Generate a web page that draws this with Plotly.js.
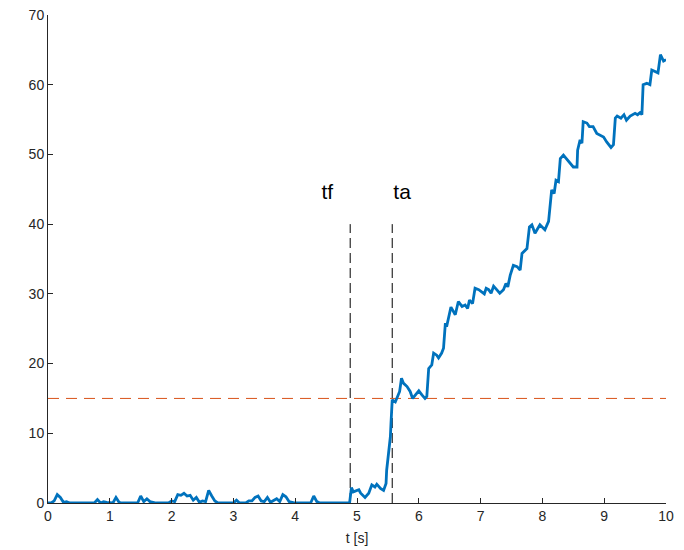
<!DOCTYPE html>
<html>
<head>
<meta charset="utf-8">
<script src="https://cdn.plot.ly/plotly-2.35.2.min.js"></script>
<style>html,body{margin:0;padding:0;background:#fff}#chart{width:684px;height:550px}</style>
</head>
<body>
<div id="chart"></div>
<script>
// signal samples
var tValues = [0,0.05,0.1,0.15,0.2,0.25,0.3,0.35,0.75,0.8,0.85,0.9,0.95,1.0,1.05,1.1,1.15,1.2,1.45,1.5,1.55,1.6,1.65,1.7,1.75,1.95,
  2.0,2.05,2.1,2.15,2.2,2.25,2.3,2.35,2.4,2.45,2.5,2.55,2.6,2.65,2.7,2.75,3.0,3.05,3.1,3.2,3.25,3.3,3.35,3.4,3.45,3.5,3.55,3.6,3.65,3.7,3.75,3.8,3.85,3.9,3.95,4.0,4.25,4.3,4.35,4.4,4.88,
  4.91,4.94,5.03,5.06,5.13,5.19,5.24,5.29,5.32,5.38,5.43,5.47,5.48,5.51,5.54,5.55,5.57,5.62,5.67,5.69,5.72,5.75,5.81,5.86,5.90,5.96,6.00,6.05,6.10,6.13,
  6.16,6.21,6.24,6.29,6.32,6.37,6.40,6.43,6.45,6.48,6.52,6.59,6.64,6.70,6.75,6.79,6.82,6.87,6.91,6.97,7.02,7.06,7.09,7.13,7.17,7.21,7.26,7.31,7.37,7.41,7.44,7.48,7.53,7.59,7.64,7.67,7.75,7.79,7.83,7.88,7.96,8.04,8.10,
  8.15,8.19,8.22,8.26,8.29,8.34,8.39,8.45,8.50,8.56,8.57,8.61,8.64,8.66,8.72,8.76,8.82,8.88,8.93,8.99,9.04,9.11,9.15,9.18,9.21,9.27,9.32,9.36,9.42,9.47,9.50,9.54,9.58,9.61,9.63,9.69,9.74,9.77,9.82,9.87,9.91,9.96,10.0];
var yValues = [0,0,0.3,1.2,0.8,0.1,0.2,0,0,0.5,0,0.2,0.1,0,0,0.8,0.1,0,0,1.0,0.2,0.6,0.2,0.1,0,0,
  0.3,0.2,1.2,1.1,1.4,1.0,1.1,0.4,0.8,0.1,0.3,0.2,1.8,1.0,0.3,0,0,0.4,0,0,0.3,0.3,0.8,1.0,0.3,0.2,0.8,0.1,0.3,0.6,0.2,1.2,0.9,0.2,0.1,0,0,1.0,0.2,0,0,
  2.2,1.6,1.9,1.4,0.8,1.4,2.6,2.3,2.7,2.1,1.8,2.8,4.7,7.1,9.5,11.4,14.8,14.5,15.5,16.0,17.9,17.2,16.7,16.0,15.0,15.7,16.1,15.5,15.0,15.3,
  19.3,19.8,21.5,21.2,20.8,21.5,22.2,25.8,25.3,26.5,28.1,27.0,28.9,28.2,28.4,27.9,29.1,28.6,30.8,30.6,30.3,30.0,30.8,30.6,30.1,31.1,30.6,30.1,30.6,31.5,31.0,32.7,34.1,33.9,33.4,35.8,36.5,39.6,39.9,38.7,39.9,39.2,40.4,
  44.9,44.4,46.3,46.1,49.4,49.9,49.4,48.7,48.2,48.2,50.6,52.1,51.6,54.7,54.5,54.0,54.0,53.0,52.8,52.5,51.8,51.0,51.4,55.2,55.5,55.2,55.7,54.9,55.5,55.7,55.9,55.7,56.0,55.7,60.0,60.2,60.0,62.1,61.9,61.7,64.3,63.4,63.6];

// markers
var thresholdValue = 15;
var thresholdSpan = [0, 10];
var tfTime = 4.89;
var taTime = 5.57;
var markerSpan = [0, 40];
var markerLabels = ['tf', 'ta'];
var labelX = [4.52, 5.73];
var labelY = [44.4, 44.4];

var traces = [
  {x: thresholdSpan, y: [thresholdValue, thresholdValue], mode: 'lines', line: {color: '#D95319', width: 1, dash: '11px,7px'}, hoverinfo: 'skip'},
  {x: [tfTime, tfTime], y: markerSpan, mode: 'lines', line: {color: '#000000', width: 1, dash: '10px,5px'}, hoverinfo: 'skip'},
  {x: [taTime, taTime], y: markerSpan, mode: 'lines', line: {color: '#000000', width: 1, dash: '10px,5px'}, hoverinfo: 'skip'},
  {x: tValues, y: yValues, mode: 'lines', line: {color: '#0072BD', width: 2.8}},
  {x: labelX, y: labelY, mode: 'text', text: markerLabels, textposition: 'middle center', textfont: {family: 'Liberation Sans, Arial, sans-serif', size: 21, color: '#000'}, hoverinfo: 'skip'}
];

var axisCommon = {
  showgrid: false, zeroline: false, showline: true, linecolor: '#262626', linewidth: 1,
  ticks: 'inside', ticklen: 5, tickcolor: '#262626', tickwidth: 1,
  tickfont: {family: 'Liberation Sans, Arial, sans-serif', size: 14, color: '#262626'}
};

var layout = {
  width: 684, height: 550,
  margin: {l: 47.5, r: 18, t: 15, b: 47},
  paper_bgcolor: '#fff', plot_bgcolor: '#fff',
  showlegend: false,
  xaxis: Object.assign({}, axisCommon, {range: [0, 10], dtick: 1, tick0: 0, automargin: false,
    title: {text: 't [s]', font: {family: 'Liberation Sans, Arial, sans-serif', size: 14, color: '#262626'}, standoff: 10}}),
  yaxis: Object.assign({}, axisCommon, {range: [0, 70], dtick: 10, tick0: 0, automargin: false})
};

Plotly.newPlot('chart', traces, layout, {displayModeBar: false, staticPlot: true});
</script>
</body>
</html>
